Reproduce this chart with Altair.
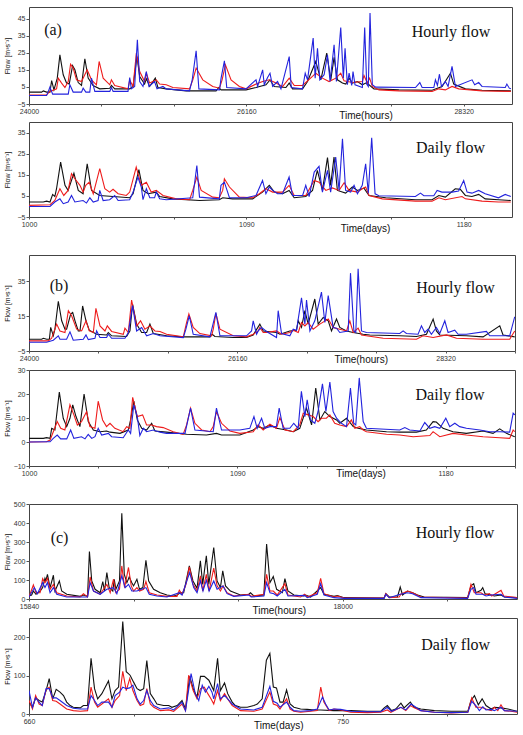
import altair as alt
import pandas as pd

# ---------------- (a) hourly: (hour, flow) ----------------
a_h_black = [(24000,2.0),(24126,2.0),(24142,2.7),(24175,2.0),(24208,2.0),(24225,8.8),(24248,3.3),(24281,10.2),(24307,23.9),(24340,12.2),(24373,7.3),(24400,6.7),(24433,17.6),(24456,15.1),(24489,7.6),(24522,5.9),(24555,21.6),(24588,10.2),(24637,5.9),(24703,3.9),(24803,4.3),(24819,5.9),(24852,3.9),(25001,3.9),(25034,5.3),(25073,22.9),(25100,11.2),(25149,6.7),(25166,9.8),(25199,5.3),(25255,10.2),(25281,4.7),(25364,3.9),(25562,2.7),(25859,2.7),(25886,4.7),(25909,3.3),(26157,3.3),(26256,4.7),(26355,6.3),(26395,9.2),(26437,5.3),(26553,4.7),(26586,7.3),(26619,3.9),(26718,3.9),(26768,8.2),(26850,20.0),(26900,9.2),(26959,24.9),(26999,9.2),(27032,22.4),(27065,9.2),(27115,7.3),(27148,6.7),(27181,10.2),(27214,7.3),(27263,8.2),(27313,6.3),(27346,7.3),(27379,6.3),(27428,3.9),(27676,3.3),(28006,3.1),(28105,5.3),(28188,13.1),(28221,6.7),(28337,3.9),(28502,3.1),(28789,2.7)]
a_h_red = [(24000,0.2),(24175,0.4),(24208,2.4),(24274,3.9),(24291,10.2),(24324,7.3),(24357,4.7),(24390,8.2),(24413,18.4),(24439,16.1),(24472,9.2),(24522,8.2),(24578,15.1),(24621,9.2),(24670,6.3),(24697,20.0),(24737,10.2),(24803,6.3),(24819,9.2),(24852,5.9),(24984,3.9),(25001,9.2),(25034,5.3),(25067,24.9),(25100,14.1),(25149,8.2),(25166,13.1),(25199,7.3),(25265,9.2),(25298,6.7),(25364,6.3),(25430,4.7),(25595,3.9),(25628,9.2),(25661,16.1),(25727,9.2),(25826,5.3),(25893,4.3),(25919,9.2),(25952,18.0),(26008,9.2),(26091,5.3),(26157,3.9),(26256,6.7),(26322,8.2),(26388,9.2),(26454,7.3),(26520,5.3),(26586,10.2),(26636,5.9),(26718,5.9),(26817,11.2),(26850,13.1),(26916,10.2),(26982,8.2),(27049,10.2),(27098,13.1),(27131,8.6),(27214,7.6),(27313,8.2),(27329,11.8),(27362,7.3),(27385,10.2),(27412,5.3),(27478,3.3),(27676,2.7),(28006,2.4),(28072,3.9),(28138,3.3),(28204,5.3),(28271,3.9),(28502,2.7),(28789,2.4)]
a_h_blue = [(24000,0.0),(24175,0.0),(24192,2.4),(24208,4.9),(24235,0.8),(24390,0.8),(24406,6.3),(24439,2.0),(24522,2.0),(24538,4.3),(24565,2.0),(24604,2.0),(24621,10.2),(24654,2.4),(24803,2.4),(24819,4.7),(24836,2.4),(24984,2.4),(25001,10.6),(25017,3.9),(25050,5.3),(25077,32.7),(25100,8.2),(25133,5.3),(25166,14.1),(25192,5.3),(25248,8.2),(25272,3.9),(25331,5.3),(25364,3.9),(25595,2.7),(25622,9.2),(25661,26.3),(25688,3.9),(25893,3.3),(25909,10.2),(25942,20.4),(25965,4.7),(26157,3.9),(26256,9.2),(26272,5.3),(26322,15.1),(26338,6.3),(26371,10.6),(26395,13.1),(26421,5.3),(26470,8.2),(26504,3.9),(26586,22.9),(26606,4.7),(26718,3.9),(26745,13.1),(26768,9.2),(26824,33.7),(26844,10.2),(26867,27.8),(26890,9.2),(26933,12.2),(26966,23.9),(26992,8.2),(27032,29.8),(27055,8.2),(27098,40.0),(27124,10.2),(27141,27.8),(27164,6.3),(27181,13.1),(27207,5.9),(27220,14.1),(27240,6.3),(27313,4.7),(27336,40.0),(27356,6.7),(27372,5.3),(27389,48.4),(27412,6.3),(27445,4.9),(27841,4.7),(27884,7.6),(27907,4.7),(28023,4.7),(28039,9.2),(28059,5.9),(28079,12.5),(28099,5.3),(28138,8.2),(28165,5.3),(28204,17.1),(28238,5.3),(28403,9.2),(28429,6.3),(28469,7.6),(28502,5.3),(28733,4.7),(28749,6.7),(28773,4.3),(28789,3.9)]

# ---------------- (a) daily: (day, flow) ----------------
a_d_black = [(1000.0,2.1),(1005.9,2.1),(1007.3,2.5),(1008.7,2.1),(1009.8,5.7),(1010.7,4.7),(1011.4,8.4),(1013.1,21.0),(1014.9,10.0),(1016.2,7.6),(1018.6,15.8),(1020.4,7.6),(1022.4,6.0),(1024.1,20.2),(1025.9,7.6),(1029.3,5.2),(1034.8,4.7),(1041.7,4.1),(1043.1,6.0),(1045.5,17.4),(1047.2,7.6),(1049.3,6.0),(1052.7,6.8),(1054.1,4.7),(1059.6,3.6),(1070.6,2.8),(1078.8,3.2),(1080.2,4.1),(1084.3,3.6),(1092.6,3.6),(1096.7,6.8),(1099.5,10.0),(1101.6,6.8),(1105.0,6.0),(1107.7,7.6),(1109.8,4.1),(1114.6,4.7),(1117.4,7.6),(1119.4,17.1),(1121.5,7.6),(1123.6,23.1),(1124.9,10.0),(1126.3,23.4),(1127.7,7.6),(1131.1,6.3),(1133.9,9.2),(1136.0,7.6),(1138.7,8.7),(1140.8,5.2),(1147.7,4.1),(1160.0,3.2),(1166.9,3.2),(1169.7,5.2),(1172.4,4.4),(1176.5,8.4),(1178.6,8.1),(1180.7,5.2),(1183.4,4.7),(1186.2,5.7),(1188.9,3.6),(1194.4,3.2),(1199.5,2.8)]
a_d_red = [(1000.0,0.5),(1008.7,0.8),(1010.7,2.8),(1012.8,8.4),(1014.4,5.2),(1016.2,7.6),(1017.6,15.5),(1019.0,13.1),(1021.1,10.0),(1022.4,6.8),(1023.5,10.0),(1024.9,11.5),(1026.6,6.0),(1029.3,17.9),(1031.4,8.4),(1033.4,6.8),(1034.8,8.1),(1036.9,6.0),(1040.3,5.2),(1041.7,6.8),(1044.4,18.6),(1046.5,10.0),(1048.6,11.5),(1050.6,6.8),(1052.7,7.6),(1055.5,5.2),(1061.0,3.6),(1066.5,3.2),(1067.8,7.6),(1069.5,13.9),(1071.3,7.6),(1076.1,4.4),(1078.8,4.1),(1080.2,7.6),(1080.9,13.1),(1083.0,9.2),(1087.1,4.4),(1092.6,4.1),(1095.4,6.0),(1098.1,8.4),(1100.9,6.8),(1105.0,6.8),(1107.7,10.0),(1109.8,5.2),(1114.6,5.2),(1118.1,12.3),(1120.1,11.5),(1122.9,7.6),(1125.6,8.8),(1128.4,7.6),(1130.5,11.2),(1132.5,7.6),(1136.0,6.8),(1138.0,8.4),(1139.4,9.2),(1140.8,5.2),(1146.3,3.6),(1160.0,2.5),(1166.9,2.5),(1169.7,4.1),(1172.4,3.2),(1179.3,4.7),(1180.7,3.6),(1187.6,2.5),(1194.4,2.1),(1199.5,2.1)]
a_d_blue = [(1000.0,0.0),(1008.7,0.0),(1010.7,2.1),(1012.8,3.6),(1014.2,1.3),(1016.2,2.1),(1017.6,5.2),(1019.0,2.1),(1022.4,2.8),(1023.8,1.6),(1025.2,4.1),(1026.6,2.1),(1028.6,2.8),(1029.3,7.6),(1030.7,2.8),(1033.4,3.2),(1035.5,5.2),(1036.9,2.8),(1041.7,3.2),(1043.1,6.8),(1045.1,13.9),(1046.5,9.2),(1047.2,3.2),(1048.6,8.4),(1050.0,4.1),(1052.0,4.1),(1052.7,6.8),(1054.1,3.6),(1056.8,3.2),(1067.8,4.1),(1069.5,19.4),(1070.6,4.4),(1078.8,3.6),(1079.5,10.0),(1080.9,11.5),(1083.0,4.1),(1089.9,4.1),(1094.0,5.2),(1096.7,12.3),(1098.1,6.0),(1099.5,9.2),(1100.9,7.6),(1102.9,6.0),(1105.0,6.0),(1107.7,13.9),(1109.1,5.2),(1113.3,5.2),(1114.6,10.0),(1116.0,4.7),(1118.1,16.3),(1120.1,19.0),(1121.5,6.8),(1123.6,17.1),(1124.9,6.8),(1127.0,23.4),(1128.4,7.6),(1129.8,32.1),(1131.1,7.6),(1133.2,6.8),(1134.6,10.0),(1136.0,6.0),(1138.0,10.0),(1139.4,20.2),(1140.5,6.3),(1141.9,32.5),(1143.3,6.0),(1144.9,5.1),(1160.0,4.7),(1162.1,6.3),(1163.5,5.1),(1167.6,5.1),(1169.0,7.6),(1171.0,6.8),(1175.2,6.8),(1177.9,7.3),(1180.0,12.3),(1181.4,6.8),(1183.4,6.3),(1186.2,7.6),(1188.9,6.0),(1194.4,4.1),(1197.2,5.7),(1199.5,4.7)]

# ---------------- (b) hourly ----------------
b_h_black = [(24000,1.7),(24131,1.7),(24149,2.3),(24183,1.7),(24211,1.7),(24225,8.5),(24252,3.7),(24269,7.5),(24304,23.5),(24339,12.3),(24373,7.5),(24390,7.5),(24432,16.2),(24453,17.1),(24477,12.3),(24511,6.5),(24529,6.5),(24556,20.8),(24591,12.3),(24625,6.9),(24701,4.6),(24805,4.2),(24822,5.6),(24857,3.7),(25012,3.3),(25047,6.5),(25074,21.9),(25116,10.4),(25168,5.6),(25220,5.6),(25254,10.4),(25289,5.0),(25427,3.7),(25600,3.1),(25876,3.1),(25900,4.6),(25928,3.3),(26118,2.7),(26256,2.7),(26325,4.2),(26394,10.4),(26429,6.5),(26567,5.6),(26602,4.6),(26705,6.5),(26774,6.9),(26792,12.3),(26826,8.5),(26861,18.1),(26895,10.4),(26964,24.8),(26999,10.4),(27051,14.2),(27103,12.3),(27137,6.5),(27189,13.3),(27223,8.5),(27293,6.5),(27362,5.6),(27465,4.6),(27534,4.2),(27845,3.7),(28018,3.3),(28122,4.6),(28191,13.3),(28225,6.5),(28260,4.2),(28536,3.7),(28709,3.1),(28882,9.4),(28916,4.2),(29037,3.1)]
b_h_red = [(24000,0.8),(24200,0.8),(24235,2.3),(24287,10.4),(24321,6.5),(24373,5.6),(24408,18.1),(24442,15.2),(24494,7.5),(24546,6.5),(24591,12.3),(24625,6.5),(24667,5.6),(24694,19.4),(24736,9.4),(24788,6.5),(24812,9.4),(24857,6.2),(24978,4.6),(24995,8.1),(25030,5.6),(25064,24.2),(25116,9.4),(25157,12.3),(25202,7.5),(25254,9.4),(25306,6.5),(25358,6.2),(25427,4.6),(25600,3.1),(25634,11.3),(25658,16.2),(25703,8.5),(25772,5.0),(25893,3.7),(25911,7.5),(25938,16.5),(25980,7.5),(26118,3.7),(26256,3.1),(26325,4.6),(26377,6.5),(26394,8.5),(26429,5.6),(26463,5.6),(26567,6.5),(26619,4.6),(26705,5.6),(26740,6.9),(26792,5.6),(26826,11.3),(26861,9.4),(26895,11.3),(26947,7.5),(27016,10.4),(27103,13.3),(27154,8.5),(27223,7.5),(27293,6.5),(27327,12.3),(27362,5.6),(27413,8.1),(27448,4.2),(27673,2.3),(28018,1.7),(28087,3.7),(28191,2.7),(28329,4.2),(28433,2.3),(28709,1.7),(28985,1.7),(29037,6.5)]
b_h_blue = [(24000,0.0),(24183,0.0),(24252,1.2),(24304,3.7),(24321,1.7),(24390,1.7),(24425,6.0),(24459,1.2),(24563,1.7),(24591,4.2),(24615,1.5),(24684,2.3),(24701,6.5),(24736,2.7),(24805,2.7),(24822,4.6),(24857,2.3),(24995,2.3),(25030,5.6),(25074,21.0),(25116,6.5),(25168,8.5),(25220,3.7),(25289,5.0),(25358,3.7),(25600,2.7),(25627,7.5),(25662,15.2),(25703,4.6),(25876,3.1),(25938,17.1),(25980,3.7),(26256,3.7),(26308,6.5),(26325,12.3),(26360,4.6),(26377,6.5),(26412,8.5),(26463,6.2),(26567,2.7),(26584,18.1),(26619,5.0),(26705,3.7),(26740,7.5),(26774,6.9),(26826,25.4),(26861,10.4),(26878,24.2),(26913,6.5),(26964,12.3),(27033,28.7),(27068,11.3),(27103,26.7),(27154,8.5),(27189,8.1),(27223,5.6),(27310,6.5),(27334,39.6),(27369,6.5),(27389,5.6),(27413,42.1),(27448,6.5),(27500,5.6),(27845,5.0),(27880,6.5),(27914,5.0),(28035,4.6),(28070,9.4),(28104,5.6),(28139,7.5),(28173,4.6),(28225,8.5),(28260,5.0),(28312,12.3),(28346,5.6),(28415,6.9),(28450,4.6),(28536,4.6),(28744,6.2),(28778,3.7),(28985,3.7),(29037,14.6)]

# ---------------- (b) daily ----------------
b_d_black = [(1000,1.5),(1006.2,1.5),(1007.6,1.8),(1009.1,1.5),(1009.8,5.7),(1011.2,5.0),(1013.1,20.8),(1014.8,9.9),(1016.3,6.4),(1017.7,9.9),(1018.9,15.5),(1020.3,10.6),(1022.0,6.4),(1023.8,20.0),(1025.6,8.5),(1027.8,5.0),(1030.7,4.3),(1033.5,4.6),(1035.0,4.1),(1039.3,3.6),(1042.9,5.0),(1043.9,9.2),(1045.3,17.0),(1046.8,9.2),(1048.7,5.7),(1050.8,5.0),(1053.0,7.8),(1054.4,4.6),(1059.4,4.1),(1068.1,3.2),(1076.7,2.9),(1081.0,3.6),(1083.2,2.9),(1091.1,2.9),(1096.9,5.0),(1099.0,6.4),(1101.2,5.7),(1104.1,7.1),(1106.9,5.7),(1111.3,5.0),(1114.2,4.3),(1117.0,5.7),(1119.9,14.1),(1122.1,7.1),(1123.9,22.5),(1125.7,9.2),(1127.8,12.7),(1130.0,10.6),(1132.9,9.2),(1134.3,7.8),(1137.2,9.9),(1140.1,6.4),(1142.2,5.7),(1145.8,5.0),(1154.5,4.3),(1160.2,4.1),(1167.4,4.1),(1171.7,5.0),(1174.6,8.5),(1176.0,8.3),(1178.9,5.7),(1183.2,4.3),(1189.0,3.6),(1196.2,4.6),(1200.5,3.6),(1203.4,5.5),(1206.3,3.6),(1209.9,2.2)]
b_d_red = [(1000,0.0),(1007.6,0.1),(1009.1,0.8),(1010.5,4.3),(1012.2,8.5),(1013.7,5.7),(1015.5,5.0),(1017.7,15.5),(1019.4,11.3),(1020.9,7.1),(1022.7,8.5),(1024.9,12.7),(1026.3,6.4),(1028.5,5.7),(1029.9,17.0),(1031.8,9.2),(1033.5,6.4),(1035.0,7.8),(1037.1,5.7),(1040.7,4.3),(1042.2,6.4),(1043.6,5.7),(1044.8,18.6),(1046.8,10.6),(1049.1,11.3),(1050.8,7.1),(1053.0,7.1),(1055.1,6.4),(1058.0,6.0),(1062.3,4.3),(1066.6,3.2),(1068.1,7.1),(1069.8,14.1),(1071.7,7.8),(1074.6,5.0),(1078.2,4.3),(1079.6,6.4),(1081.0,12.7),(1083.2,7.8),(1086.8,4.6),(1091.1,3.6),(1096.9,4.3),(1099.0,7.1),(1101.2,5.0),(1104.1,7.4),(1106.9,5.7),(1108.4,10.2),(1110.6,5.0),(1114.2,4.3),(1117.0,7.1),(1118.5,12.0),(1120.6,11.3),(1122.8,10.6),(1124.9,8.5),(1126.4,9.9),(1128.5,9.9),(1130.0,11.3),(1132.1,7.8),(1134.3,7.1),(1137.2,6.4),(1139.3,9.2),(1140.8,5.7),(1142.9,6.4),(1144.4,5.0),(1145.8,4.3),(1154.5,3.2),(1160.2,2.9),(1166.0,2.2),(1173.2,2.7),(1174.6,4.3),(1177.5,2.2),(1183.2,3.6),(1189.0,2.9),(1196.2,2.2),(1203.4,1.8),(1207.7,1.5),(1209.2,5.0),(1209.9,4.3)]
b_d_blue = [(1000,0.0),(1007.6,0.1),(1009.1,0.1),(1010.5,1.5),(1012.2,2.9),(1013.7,1.3),(1016.3,1.3),(1018.0,5.0),(1019.4,1.5),(1022.7,2.2),(1024.2,1.3),(1025.6,3.2),(1027.1,1.5),(1028.5,2.2),(1029.9,5.7),(1031.4,2.9),(1034.3,3.6),(1035.7,2.2),(1040.7,1.8),(1042.9,5.0),(1043.9,3.6),(1045.3,15.5),(1046.8,10.6),(1047.9,2.7),(1049.4,5.7),(1050.8,4.3),(1053.7,5.0),(1056.6,4.1),(1059.4,3.6),(1067.4,3.6),(1069.8,14.1),(1071.7,5.0),(1079.6,4.3),(1081.0,14.1),(1083.2,5.0),(1091.1,5.0),(1095.4,5.7),(1097.2,10.6),(1098.6,5.7),(1100.5,9.9),(1101.9,5.7),(1104.1,6.4),(1106.9,6.4),(1108.1,14.1),(1109.8,5.7),(1112.7,5.7),(1114.4,7.8),(1116.3,5.7),(1117.7,21.1),(1119.2,10.6),(1120.2,17.6),(1121.6,9.2),(1123.5,7.8),(1124.9,12.7),(1126.8,24.2),(1128.3,12.7),(1130.0,25.0),(1131.4,12.7),(1132.9,9.9),(1135.0,7.8),(1137.2,6.4),(1138.9,22.5),(1140.3,7.8),(1141.2,7.1),(1142.7,26.7),(1144.4,8.5),(1145.8,5.7),(1160.2,5.0),(1162.4,6.0),(1164.5,5.0),(1168.9,4.6),(1171.0,8.1),(1173.2,5.7),(1175.3,6.4),(1177.5,5.7),(1180.1,9.9),(1181.8,6.4),(1184.0,7.8),(1186.1,6.4),(1189.0,5.7),(1194.8,5.0),(1199.1,4.3),(1203.4,4.3),(1207.7,4.1),(1209.2,12.0),(1209.9,11.3)]

# ---------------- (c) hourly ----------------
c_h_black = [(15840,16),(15858,21),(15870,42),(15888,25),(15916,40),(15934,60),(15950,109),(15956,95),(15967,130),(15985,60),(16008,125),(16019,42),(16049,95),(16065,42),(16100,25),(16192,14),(16215,21),(16243,14),(16256,250),(16272,95),(16295,51),(16330,33),(16348,92),(16360,42),(16376,139),(16392,60),(16417,42),(16427,104),(16438,51),(16463,95),(16479,451),(16496,130),(16514,86),(16530,116),(16548,86),(16560,69),(16583,104),(16601,51),(16624,60),(16645,204),(16664,95),(16698,51),(16744,33),(16790,21),(16836,16),(16859,21),(16882,33),(16905,33),(16944,174),(16969,95),(16997,56),(17020,201),(17036,77),(17061,227),(17078,77),(17112,271),(17135,95),(17158,60),(17174,148),(17193,69),(17227,42),(17296,21),(17354,25),(17365,33),(17388,16),(17457,21),(17476,289),(17499,86),(17522,118),(17545,51),(17584,33),(17602,107),(17623,42),(17664,21),(17733,16),(17745,21),(17779,10.6),(17848,60),(17871,25),(17940,14),(17963,18),(18009,7),(18285,5),(18297,28),(18320,10.6),(18377,10.6),(18396,63),(18412,21),(18446,42),(18481,33),(18515,21),(18561,10.6),(18860,7),(18883,69),(18902,81),(18918,33),(18952,46),(18964,60),(18980,28),(19021,21),(19044,16),(19090,21),(19113,10.6),(19200,7)]
c_h_red = [(15840,10.6),(15870,74),(15888,33),(15916,33),(15934,107),(15950,86),(15967,109),(15985,51),(16008,77),(16031,33),(16100,16),(16192,10.6),(16215,28),(16243,10.6),(16261,116),(16284,42),(16330,25),(16353,51),(16376,77),(16399,33),(16422,104),(16438,33),(16463,51),(16479,174),(16498,60),(16525,166),(16544,69),(16560,42),(16583,60),(16601,42),(16629,51),(16645,92),(16668,33),(16721,21),(16790,14),(16859,14),(16875,46),(16894,25),(16921,77),(16944,169),(16969,77),(16997,42),(17020,122),(17036,42),(17061,130),(17080,42),(17112,162),(17135,69),(17158,42),(17176,69),(17204,33),(17250,16),(17354,25),(17370,14),(17457,25),(17476,130),(17499,42),(17522,42),(17549,21),(17602,81),(17623,21),(17710,10.6),(17738,25),(17756,10.6),(17825,33),(17848,109),(17871,28),(17940,10.6),(17963,16),(18009,5),(18285,5),(18297,28),(18320,7),(18389,10.6),(18400,25),(18446,42),(18481,33),(18538,10.6),(18860,5),(18883,77),(18906,33),(18952,33),(18975,21),(19010,28),(19026,16),(19090,46),(19109,16),(19200,7)]
c_h_blue = [(15840,10.6),(15877,60),(15898,28),(15934,86),(15950,60),(15967,86),(15985,33),(16008,60),(16031,25),(16100,10.6),(16215,10.6),(16243,10.6),(16261,86),(16284,42),(16330,25),(16376,51),(16422,60),(16445,28),(16479,122),(16502,60),(16525,77),(16548,42),(16583,42),(16645,60),(16668,25),(16721,16),(16790,10.6),(16875,33),(16894,21),(16946,139),(16974,60),(16997,33),(17020,95),(17038,42),(17061,99),(17080,42),(17112,95),(17135,51),(17176,69),(17204,28),(17250,14),(17354,21),(17370,10.6),(17457,16),(17476,86),(17499,33),(17526,28),(17549,16),(17602,51),(17623,16),(17738,19),(17756,7),(17825,25),(17848,81),(17871,21),(17940,7),(18009,3.5),(18285,3.5),(18297,25),(18320,7),(18396,25),(18446,33),(18481,28),(18538,7),(18860,3.5),(18883,51),(18902,60),(18918,25),(18964,25),(18987,16),(19021,21),(19090,25),(19113,10.6),(19200,3.5)]

# ---------------- (c) daily ----------------
c_d_black = [(660,31),(661,17.5),(661.9,42),(662.9,35),(663.8,31),(664.9,61),(665.8,92),(666.8,39.5),(667.8,64),(668.9,57),(669.9,48),(670.8,31),(671.8,22),(672.7,17.5),(674.7,16),(675.6,22),(676.8,22),(677.8,145),(678.8,66),(679.7,39.5),(680.9,53),(682.8,86),(683.8,39.5),(684.7,61),(685.7,70),(686.9,241),(687.9,110),(689,101),(690,83),(691,66),(691.9,61),(692.9,66),(693.8,139),(694.8,53),(695.8,39.5),(696.7,26),(698.6,22),(700.1,22),(701,17.5),(702.5,22),(703.9,35),(704.9,13),(706.1,98),(707.1,66),(708.2,44),(709.2,98),(710.3,98),(711.6,88),(713,61),(714.1,145),(714.9,61),(716.1,81),(717,53),(718.3,31),(719.2,22),(720.7,17.5),(722.6,17.5),(724.5,22),(725.5,26),(726.9,39.5),(728.1,140),(729.1,158),(730.1,70),(731,68),(732,31),(732.9,31),(733.9,63),(734.9,26),(736,17.5),(737.9,13),(739.8,12),(741.8,10.6),(743.7,10.6),(747.5,8.8),(752.3,8.8),(757.1,7),(760.9,7),(761.9,16),(762.8,22),(764,8.8),(765.2,13),(766.7,28),(767.6,16),(769.4,31),(770.5,17.5),(772.4,13),(776.3,8.8),(781.1,7),(785.9,7),(786.8,35),(787.8,48),(788.9,24),(790,39.5),(791.1,22),(792.6,13),(793.5,17.5),(795.4,16),(797.4,13),(800,7)]
c_d_red = [(660,35),(661,13),(661.9,48),(662.9,26),(663.8,22),(664.9,63),(665.8,70),(666.8,35),(667.8,33),(668.9,26),(670.8,13),(672.7,8.8),(674.7,7),(676.8,8.8),(677.8,70),(678.8,31),(679.7,17.5),(680.9,26),(682.8,39.5),(683.8,17.5),(684.7,35),(686,48),(686.9,111),(687.9,61),(688.9,92),(689.8,61),(691,35),(691.9,22),(692.9,26),(693.8,66),(694.8,26),(695.8,17.5),(697.7,8.8),(700.1,10.6),(701.5,7),(703.9,26),(704.9,8.8),(705.8,101),(707.1,61),(708.2,39.5),(709.2,66),(710.3,70),(711.3,53),(712.2,39.5),(713,26),(714.1,61),(714.9,35),(716.1,53),(717,39.5),(718.3,22),(720.7,8.8),(724.5,7),(726.9,13),(729.1,57),(730.1,26),(731.2,22),(732,13),(733.9,39.5),(734.9,13),(736,7),(737.9,4.4),(740.8,7),(742.7,8.8),(743.7,70),(744.6,31),(746.1,8.8),(747.5,13),(749.4,10.6),(752.3,4.4),(757.1,3.5),(760.9,4.4),(762.8,10.6),(763.8,4.4),(766.7,17.5),(768.1,8.8),(769.4,22),(770.5,16),(772.4,8.8),(776.3,4.4),(781.1,2.6),(785.9,4.4),(787,42),(788.2,17.5),(789.7,17.5),(791.1,13),(792.6,8.8),(793.5,17.5),(794.5,8.8),(795.4,24),(796.4,8.8),(798.3,7),(800,4.4)]
c_d_blue = [(660,61),(661,17.5),(661.9,42),(662.9,31),(663.8,22),(664.9,66),(665.8,66),(666.8,42),(667.8,42),(668.9,35),(670.8,22),(672.7,15),(674.7,13),(676.8,13),(677.8,48),(678.8,35),(679.7,22),(680.9,31),(682.8,31),(683.8,17.5),(684.7,48),(686,57),(686.9,70),(687.9,66),(688.9,68),(689.8,75),(691,39.5),(691.9,26),(692.9,35),(693.8,61),(694.8,35),(695.8,22),(697.7,13),(700.1,16),(701.5,10.6),(703.9,31),(704.9,8.8),(706.5,105),(707.7,53),(708.7,35),(709.7,75),(710.6,57),(711.6,72),(712.5,57),(713,39.5),(714.1,79),(714.9,39.5),(716.1,48),(717,39.5),(718.3,26),(720.7,13),(724.5,10.6),(726.9,17.5),(729.1,72),(730.1,33),(731.2,28),(732,17.5),(733.9,31),(734.9,17.5),(736,8.8),(737.9,7),(740.8,8.8),(742.7,13),(744.2,44),(745.1,26),(746.1,10.6),(747.5,13),(749.4,12),(752.3,7),(757.1,6),(760.9,6),(762.8,17.5),(764,7),(766.7,17.5),(768.1,10.6),(769.6,26),(771,17.5),(772.4,8.8),(776.3,4.4),(781.1,3.5),(785.9,4.4),(787,33),(788.2,22),(789.2,8.8),(790.2,19),(791.1,10.6),(792.6,12),(793.5,8.8),(795.4,17.5),(796.4,8.8),(800,7)]

# axis ticks / labels
a_h_ticks = [24000, 24720, 25440, 26160, 26880, 27600, 28320]
b_h_ticks = [24000, 24720, 25440, 26160, 26880, 27600, 28320, 29040]
h_labels_ab = [24000, 26160, 28320]
c_h_ticks = [15840, 16560, 17280, 18000, 18720]
c_h_labels = [15840, 18000]
a_d_ticks = [1000, 1030, 1060, 1090, 1120, 1150, 1180]
b_d_ticks = [1000, 1030, 1060, 1090, 1120, 1150, 1180, 1210]
d_labels_ab = [1000, 1090, 1180]
c_d_ticks = [660, 690, 720, 750, 780]
c_d_labels = [660, 750]

COLORS = ["#111111", "#ee1c1c", "#2323dd"]
YTITLE = "Flow [m³s⁻¹]"


def panel(series, xdom, xticks, xlabels, xtitle, title_x, title_y,
          ydom, yticks, w, h, texts):
    lab_list = ",".join(str(v) for v in xlabels)
    xaxis = alt.Axis(values=xticks, format="d",
                     labelExpr=f"indexof([{lab_list}], datum.value) >= 0 ? datum.label : ''",
                     labelFlush=False, labelOverlap=False, tickSize=2, labelPadding=1,
                     title=xtitle, titleX=title_x, titleY=title_y,
                     titleAlign="center", titleBaseline="middle",
                     titleFontSize=10, titleFontWeight="normal")
    yaxis = alt.Axis(values=yticks, tickSize=3, labelPadding=1,
                     title=YTITLE, titleX=-21.5, titleY=h / 2,
                     titleAlign="center", titleBaseline="middle",
                     titleFontSize=7, titleFontWeight="normal")
    layers = []
    for data, col in zip(series, COLORS):
        df = pd.DataFrame(data, columns=["t", "q"])
        layers.append(
            alt.Chart(df).mark_line(color=col, strokeWidth=1.1, clip=True).encode(
                x=alt.X("t:Q", scale=alt.Scale(domain=xdom, nice=False, zero=False), axis=xaxis),
                y=alt.Y("q:Q", scale=alt.Scale(domain=ydom, nice=False, zero=False), axis=yaxis),
            )
        )
    for txt, tx, ty in texts:
        layers.append(
            alt.Chart(pd.DataFrame({"k": [0]})).mark_text(
                text=txt, font="Liberation Serif", fontSize=16, color="#111",
                align="center", baseline="middle"
            ).encode(x=alt.value(tx), y=alt.value(ty))
        )
    return alt.layer(*layers).properties(width=w, height=h)


def spacer(g):
    return alt.Chart(pd.DataFrame({"v": [0]})).mark_point(opacity=0).encode(
        x=alt.X("v:Q", axis=None), y=alt.Y("v:Q", axis=None)
    ).properties(width=20, height=g, view=alt.ViewBackground(strokeOpacity=0))


p1 = panel([a_h_black, a_h_red, a_h_blue], [24000, 28800], a_h_ticks, h_labels_ab,
           "Time(hours)", 336.5, 11, [-5, 52], [-5, 5, 15, 25, 35, 45], 483, 97,
           [("(a)", 24, 23), ("Hourly flow", 422, 24.7)])
p2 = panel([a_d_black, a_d_red, a_d_blue], [1000, 1200], a_d_ticks, d_labels_ab,
           "Time(days)", 336, 11, [-5, 40], [-5, 5, 15, 25, 35], 483, 95,
           [("Daily flow", 421.5, 25.7)])
p3 = panel([b_h_black, b_h_red, b_h_blue], [24000, 29040], b_h_ticks, h_labels_ab,
           "Time(hours)", 331.7, 8.3, [-5, 50], [-5, 15, 35], 486, 96,
           [("(b)", 30, 31), ("Hourly flow", 426.5, 32.7)])
p4 = panel([b_d_black, b_d_red, b_d_blue], [1000, 1210], b_d_ticks, d_labels_ab,
           "Time(days)", 331.5, 7.4, [-10, 30], [-10, 0, 10, 20, 30], 486, 96,
           [("Daily flow", 421, 25.3)])
p5 = panel([c_h_black, c_h_red, c_h_blue], [15840, 19200], c_h_ticks, c_h_labels,
           "Time(hours)", 249.7, 11, [0, 500], [0, 100, 200, 300, 400, 500], 488, 95,
           [("(c)", 30.5, 33.7), ("Hourly flow", 426, 29.3)])
p6 = panel([c_d_black, c_d_red, c_d_blue], [660, 800], c_d_ticks, c_d_labels,
           "Time(days)", 249.3, 11, [0, 250], [0, 100, 200], 488, 96,
           [("Daily flow", 426.7, 27.3)])

chart = alt.vconcat(
    p1, spacer(18), p2, spacer(38), p3, spacer(19), p4, spacer(38), p5, spacer(19), p6,
    spacing=0, bounds="flush"
).properties(
    padding={"left": 3, "top": 6, "right": 0, "bottom": 0}
).configure_view(
    stroke="#444", strokeWidth=1
).configure_axis(
    grid=False, domain=False, labelFont="Liberation Sans", titleFont="Liberation Sans",
    labelFontSize=7, labelColor="#333", tickColor="#555", titleColor="#111"
)

chart.save("out.html", embed_options={"renderer": "svg", "actions": False})
